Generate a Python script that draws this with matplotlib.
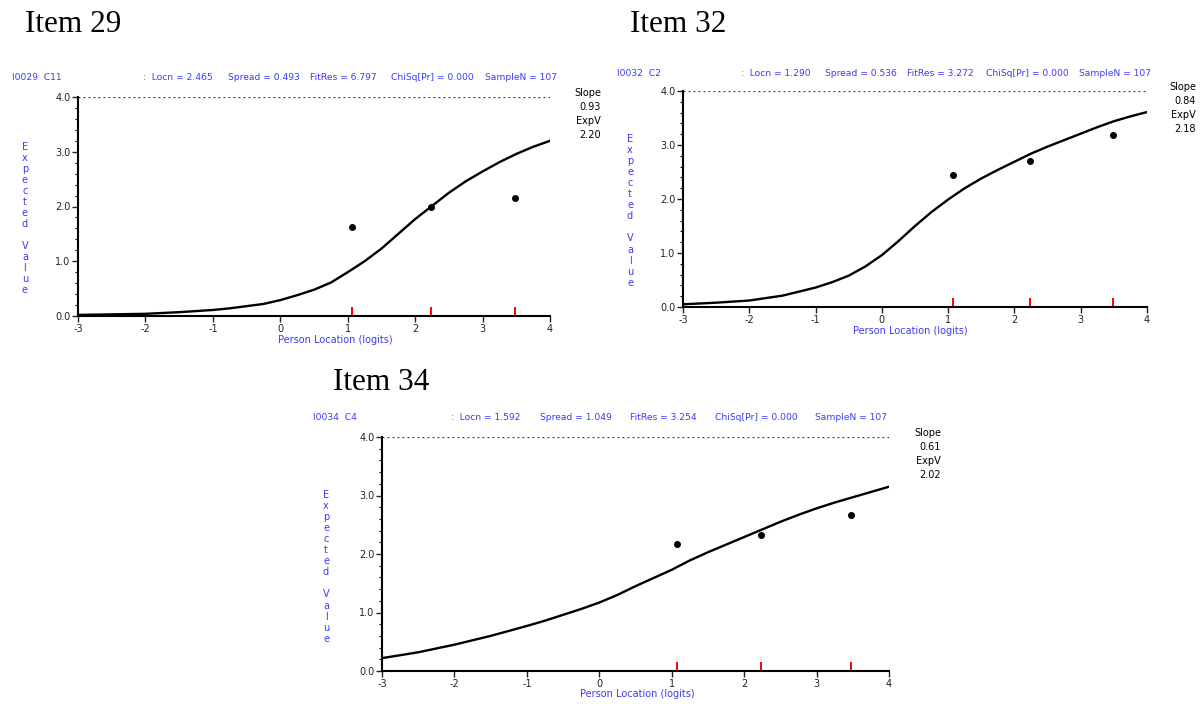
import matplotlib.pyplot as plt
import numpy as np
from matplotlib.ticker import MultipleLocator

W, H = 1200, 706

# curve values (x in logits, expected value)
curve_x = [-3, -2.5, -2, -1.5, -1, -0.75, -0.5, -0.25, 0, 0.25, 0.5, 0.75, 1,
           1.25, 1.5, 1.75, 2, 2.25, 2.5, 2.75, 3, 3.25, 3.5, 3.75, 4]
curve29 = [0.02, 0.03, 0.04, 0.07, 0.11, 0.14, 0.18, 0.22, 0.29, 0.38, 0.48, 0.61, 0.80,
           1.00, 1.23, 1.50, 1.77, 2.01, 2.25, 2.46, 2.64, 2.81, 2.96, 3.09, 3.20]
curve32 = [0.05, 0.08, 0.12, 0.21, 0.36, 0.46, 0.58, 0.75, 0.96, 1.22, 1.50, 1.76, 1.99,
           2.20, 2.38, 2.54, 2.69, 2.84, 2.97, 3.09, 3.21, 3.33, 3.44, 3.53, 3.61]
curve34 = [0.22, 0.32, 0.45, 0.60, 0.77, 0.86, 0.96, 1.06, 1.17, 1.30, 1.45, 1.59, 1.73,
           1.89, 2.03, 2.16, 2.29, 2.42, 2.55, 2.67, 2.78, 2.88, 2.97, 3.06, 3.15]

# observed class means
obs_x = [1.07, 2.23, 3.48]
obs29 = [1.63, 2.00, 2.16]
obs32 = [2.44, 2.70, 3.18]
obs34 = [2.17, 2.33, 2.66]

titles = ['Item 29', 'Item 32', 'Item 34']
codes = ['I0029  C11', 'I0032  C2', 'I0034  C4']
locn = ['2.465', '1.290', '1.592']
spread = ['0.493', '0.536', '1.049']
fitres = ['6.797', '3.272', '3.254']
chisq = ['0.000', '0.000', '0.000']
sample_n = [107, 107, 107]
slope = ['0.93', '0.84', '0.61']
expv = ['2.20', '2.18', '2.02']

# layout in pixels: axes left, right, top, bottom; title pos; header y; header x positions; slope x right; slope y
panels = [
    dict(box=(78, 550, 97, 316), title=(25, 25), hy=77, hx=[12, 143, 228, 310, 391, 485],
         sx=601, sy=93, ylab=25, xlab=(335, 340), curve=curve29, obs=obs29),
    dict(box=(683, 1147, 91, 307), title=(630, 25), hy=74, hx=[617, 741, 825, 907, 986, 1079],
         sx=1196, sy=87, ylab=630, xlab=(910, 331), curve=curve32, obs=obs32),
    dict(box=(382, 889, 437, 671), title=(333, 383), hy=418, hx=[313, 451, 540, 630, 715, 815],
         sx=941, sy=433, ylab=326, xlab=(637, 694), curve=curve34, obs=obs34),
]

blue = '#3b3bf5'
small = ['Liberation Sans Narrow', 'DejaVu Sans']
fs = 7.0
hfs = 6.6

fig = plt.figure(figsize=(W / 100, H / 100), dpi=100)


def fx(x):
    return x / W


def fy(y):
    return 1 - y / H


for i, p in enumerate(panels):
    l, r, t, b = p['box']
    ax = fig.add_axes([fx(l), fy(b), (r - l) / W, (b - t) / H])
    ax.plot(curve_x, p['curve'], color='black', lw=1.7)
    ax.plot(obs_x, p['obs'], 'o', color='black', ms=4)
    ax.vlines(obs_x, 0, 0.16, color='red', lw=1.4)
    ax.axhline(4.0, color='#333333', ls=(0, (1.5, 2.5)), lw=0.9)
    ax.set_xlim(-3, 4)
    ax.set_ylim(0, 4)
    ax.xaxis.set_major_locator(MultipleLocator(1))
    ax.yaxis.set_major_locator(MultipleLocator(1))
    ax.yaxis.set_minor_locator(MultipleLocator(0.2))
    ax.set_yticklabels([f'{v:.1f}' for v in ax.get_yticks()])
    ax.set_xticklabels([f'{int(v)}' for v in ax.get_xticks()])
    for s in ['top', 'right']:
        ax.spines[s].set_visible(False)
    for s in ['left', 'bottom']:
        ax.spines[s].set_linewidth(1.5)
    ax.tick_params(which='major', length=4, width=1, labelsize=fs, pad=1.5, colors='#222222')
    ax.tick_params(which='minor', length=2.5, width=0.8)
    ax.tick_params(axis='x', which='minor', bottom=False)
    for lab in ax.get_xticklabels() + ax.get_yticklabels():
        lab.set_family(small)
    ax.patch.set_alpha(0)

    # title
    fig.text(fx(p['title'][0]), fy(p['title'][1]), titles[i], family='Liberation Serif',
             fontsize=22.5, va='center', ha='left')
    # header line
    parts = [codes[i], ':  Locn = ' + locn[i], 'Spread = ' + spread[i], 'FitRes = ' + fitres[i],
             'ChiSq[Pr] = ' + chisq[i], f'SampleN = {sample_n[i]}']
    for x0, s in zip(p['hx'], parts):
        fig.text(fx(x0), fy(p['hy']), s, color=blue, fontsize=hfs, family=small, va='center', ha='left')
    # slope / expv
    sy = p['sy']
    fig.text(fx(p['sx']), fy(sy), 'Slope', fontsize=fs, family=small, va='center', ha='right')
    fig.text(fx(p['sx']), fy(sy + 14), slope[i], fontsize=fs, family=small, va='center', ha='right')
    fig.text(fx(p['sx']), fy(sy + 28), 'ExpV', fontsize=fs, family=small, va='center', ha='right')
    fig.text(fx(p['sx']), fy(sy + 42), expv[i], fontsize=fs, family=small, va='center', ha='right')
    # stacked y label
    ymid = t + 0.555 * (b - t)
    fig.text(fx(p['ylab']), fy(ymid), '\n'.join('Expected Value'), color=blue,
             fontsize=fs, family=small, va='center', ha='center', linespacing=1.13)
    # x label
    fig.text(fx(p['xlab'][0]), fy(p['xlab'][1]), 'Person Location (logits)', color=blue,
             fontsize=fs, family=small, va='center', ha='center')

plt.savefig('out.png', dpi=100)
